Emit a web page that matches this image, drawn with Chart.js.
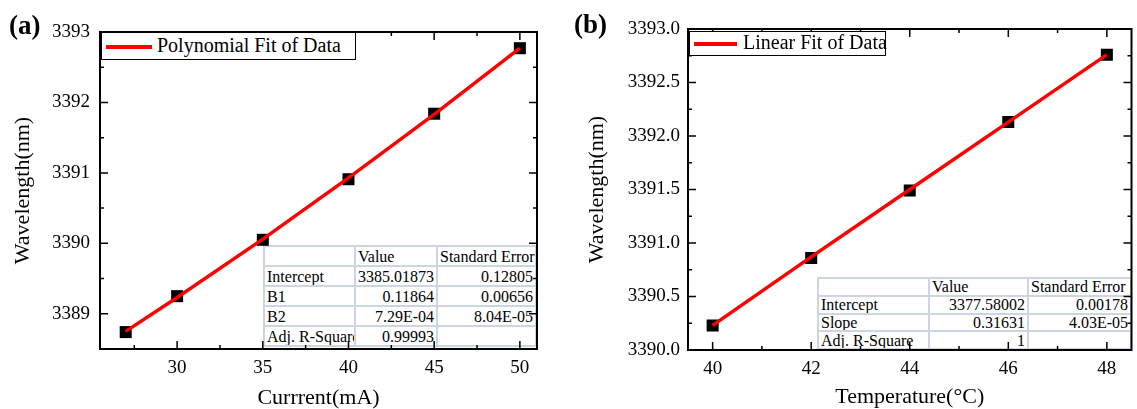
<!DOCTYPE html>
<html>
<head>
<meta charset="utf-8">
<script src="https://cdn.jsdelivr.net/npm/chart.js@4.4.0/dist/chart.umd.min.js"></script>
<style>
  html, body { margin: 0; padding: 0; background: #fff; overflow: hidden; width: 1137px; height: 409px; }
  .panel { position: absolute; top: 0; height: 409px; }
  .panel canvas { position: absolute; left: 0; top: 0; z-index: 2; }
  .tag { position: absolute; z-index: 3; font: bold 27px "Liberation Serif", serif; line-height: 1; }
  .legend { position: absolute; z-index: 3; box-sizing: border-box; border: 1px solid #000; background: #fff;
    font: 20px "Liberation Serif", serif; color: #000; white-space: nowrap; }
  .legend .swatch { position: absolute; left: 4px; height: 4px; background: #ff0000; }
  .legend .txt { position: absolute; top: 0; }
  table.fit { position: absolute; z-index: 1; border-collapse: collapse; table-layout: fixed;
    background: #fff; font: 16px "Liberation Serif", serif; color: #000; }
  table.fit td { border: 2px solid #cdd5e5; padding: 0 2px; white-space: nowrap; overflow: hidden;
    text-align: right; line-height: 15px; }
  table.fit td:first-child { text-align: left; }
  table.fit tr:first-of-type td { text-align: left; }
</style>
</head>
<body>
<div class="tag" style="left:9px; top:12px;">(a)</div>
<div class="tag" style="left:574px; top:11px;">(b)</div>

<div class="panel" style="left:0; width:560px;">
  <table class="fit" id="tableA" style="left:263px; top:245px; width:272px;">
    <colgroup><col style="width:91px"><col style="width:82px"><col style="width:99px"></colgroup>
  </table>
  <canvas id="chartA" width="560" height="409"></canvas>
  <div class="legend" id="legendA" style="left:101px; top:32px; width:255px; height:28px;"></div>
</div>

<div class="panel" style="left:570px; width:570px;">
  <table class="fit" id="tableB" style="left:247px; top:277px; width:313px;">
    <colgroup><col style="width:111px"><col style="width:99px"><col style="width:103px"></colgroup>
  </table>
  <canvas id="chartB" width="570" height="409"></canvas>
  <div class="legend" id="legendB" style="left:119px; top:31px; width:197px; height:25px;"></div>
</div>

<script>
// panel (a): wavelength vs current
const currentA = [27, 30, 35, 40, 45, 50];
const wavelengthA = [3388.74, 3389.25, 3390.05, 3390.91, 3391.84, 3392.77];
const polyFitA = [3388.75, 3389.23, 3390.06, 3390.93, 3391.83, 3392.77];
const xTicksA = [30, 35, 40, 45, 50];
const yTicksA = [3389, 3390, 3391, 3392, 3393];
const tableA = [
  ['', 'Value', 'Standard Error'],
  ['Intercept', '3385.01873', '0.12805'],
  ['B1', '0.11864', '0.00656'],
  ['B2', '7.29E-04', '8.04E-05'],
  ['Adj. R-Square', '0.99993', '']
];

// panel (b): wavelength vs temperature
const temperatureB = [40, 42, 44, 46, 48];
const wavelengthB = [3390.23, 3390.86, 3391.49, 3392.13, 3392.76];
const linearFitB = [3390.23, 3390.87, 3391.50, 3392.13, 3392.76];
const xTicksB = [40, 42, 44, 46, 48];
const yTicksB = [3390.0, 3390.5, 3391.0, 3391.5, 3392.0, 3392.5, 3393.0];
const tableB = [
  ['', 'Value', 'Standard Error'],
  ['Intercept', '3377.58002', '0.00178'],
  ['Slope', '0.31631', '4.03E-05'],
  ['Adj. R-Square', '1', '']
];

Chart.defaults.font.family = '"Liberation Serif", "Times New Roman", serif';
Chart.defaults.color = '#000';

function fillTable(id, rows, rowH) {
  const t = document.getElementById(id);
  rows.forEach(r => {
    const tr = document.createElement('tr');
    tr.style.height = rowH + 'px';
    r.forEach(c => {
      const td = document.createElement('td');
      td.textContent = c;
      tr.appendChild(td);
    });
    t.appendChild(tr);
  });
}
fillTable('tableA', tableA, 20);
fillTable('tableB', tableB, 17.8);

// legend box inside the plot, label taken from the fit dataset
function fillLegend(id, chart, swatchW, swatchTop, textLeft, textTop) {
  const ds = chart.data.datasets[0];
  const box = document.getElementById(id);
  const sw = document.createElement('div');
  sw.className = 'swatch';
  sw.style.width = swatchW + 'px';
  sw.style.top = swatchTop + 'px';
  sw.style.background = ds.borderColor;
  const tx = document.createElement('div');
  tx.className = 'txt';
  tx.style.left = textLeft + 'px';
  tx.style.top = textTop + 'px';
  tx.textContent = ds.label;
  box.appendChild(sw);
  box.appendChild(tx);
}

// box round the plot, ticks pointing inwards on all four sides
const framePlugin = {
  id: 'frame',
  afterDatasetsDraw(chart) {
    const { ctx, chartArea: a } = chart;
    const x = chart.scales.x, y = chart.scales.y;
    ctx.save();
    ctx.strokeStyle = '#000';
    ctx.lineWidth = 2;
    ctx.strokeRect(a.left, a.top, a.right - a.left, a.bottom - a.top);
    ctx.lineWidth = 1.5;

    const allTicks = (scale) => {
      const major = scale.ticks.map(t => t.value);
      const half = (major[1] - major[0]) / 2;
      const minor = [];
      for (let v = major[0] - half; v <= scale.max; v += 2 * half) {
        if (v >= scale.min) minor.push(v);
      }
      return { major, minor };
    };

    const xt = allTicks(x), yt = allTicks(y);
    ctx.beginPath();
    [[xt.major, 8], [xt.minor, 4]].forEach(([vals, len]) => {
      vals.forEach(v => {
        const px = x.getPixelForValue(v);
        ctx.moveTo(px, a.bottom); ctx.lineTo(px, a.bottom - len);
        ctx.moveTo(px, a.top); ctx.lineTo(px, a.top + len);
      });
    });
    [[yt.major, 8], [yt.minor, 4]].forEach(([vals, len]) => {
      vals.forEach(v => {
        const py = y.getPixelForValue(v);
        ctx.moveTo(a.left, py); ctx.lineTo(a.left + len, py);
        ctx.moveTo(a.right, py); ctx.lineTo(a.right - len, py);
      });
    });
    ctx.stroke();
    ctx.restore();
  }
};

function makeChart(id, o) {
  return new Chart(document.getElementById(id), {
    type: 'scatter',
    data: {
      datasets: [
        {
          label: o.fitLabel,
          data: o.xs.map((v, i) => ({ x: v, y: o.fit[i] })),
          showLine: true,
          borderColor: '#ff0000',
          backgroundColor: '#ff0000',
          borderWidth: 3.5,
          pointRadius: 0
        },
        {
          label: 'Data',
          data: o.xs.map((v, i) => ({ x: v, y: o.ys[i] })),
          pointStyle: 'rect',
          pointRadius: 8.5,
          backgroundColor: '#000',
          borderWidth: 0
        }
      ]
    },
    options: {
      responsive: false,
      animation: false,
      events: [],
      layout: { padding: { top: o.top, right: o.right, bottom: 0, left: 0 } },
      plugins: {
        tooltip: { enabled: false },
        legend: { display: false }
      },
      scales: {
        x: {
          type: 'linear',
          min: o.xMin, max: o.xMax,
          afterBuildTicks: s => { s.ticks = o.xTicks.map(v => ({ value: v })); },
          afterFit: s => { s.height = o.xAxisH; },
          grid: { display: false, drawTicks: false },
          border: { display: false },
          ticks: { padding: 8, font: { size: 19 }, color: '#000', callback: v => String(v) },
          title: { display: true, text: o.xTitle, color: '#000',
            font: { size: 22, lineHeight: 1 }, padding: { top: 0, bottom: o.xTitlePad } }
        },
        y: {
          type: 'linear',
          min: o.yMin, max: o.yMax,
          afterBuildTicks: s => { s.ticks = o.yTicks.map(v => ({ value: v })); },
          afterFit: s => { s.width = o.yAxisW; },
          grid: { display: false, drawTicks: false },
          border: { display: false },
          ticks: { padding: o.yTickPad, font: { size: 19 }, color: '#000', callback: o.yFmt },
          title: { display: true, text: 'Wavelength(nm)', color: '#000',
            font: { size: 22, lineHeight: 1 }, padding: { top: o.yTitlePad, bottom: 0 } }
        }
      }
    },
    plugins: [framePlugin]
  });
}

const chartA = makeChart('chartA', {
  xs: currentA, ys: wavelengthA, fit: polyFitA,
  fitLabel: 'Polynomial Fit of Data',
  xTicks: xTicksA, yTicks: yTicksA,
  xMin: 25.5, xMax: 51, yMin: 3388.5, yMax: 3393,
  top: 32, right: 23, xAxisH: 60, yAxisW: 100,
  yTickPad: 10, yTitlePad: 12, xTitlePad: 0,
  xTitle: 'Currrent(mA)',
  yFmt: v => String(v)
});

const chartB = makeChart('chartB', {
  xs: temperatureB, ys: wavelengthB, fit: linearFitB,
  fitLabel: 'Linear Fit of Data',
  xTicks: xTicksB, yTicks: yTicksB,
  xMin: 39.5, xMax: 48.5, yMin: 3390, yMax: 3393,
  top: 29, right: 0, xAxisH: 59, yAxisW: 118,
  yTickPad: 8, yTitlePad: 16, xTitlePad: 1,
  xTitle: 'Temperature(°C)',
  yFmt: v => v.toFixed(1)
});

fillLegend('legendA', chartA, 46, 12, 55, 1);
fillLegend('legendB', chartB, 43, 10, 53, -1);
</script>
</body>
</html>
